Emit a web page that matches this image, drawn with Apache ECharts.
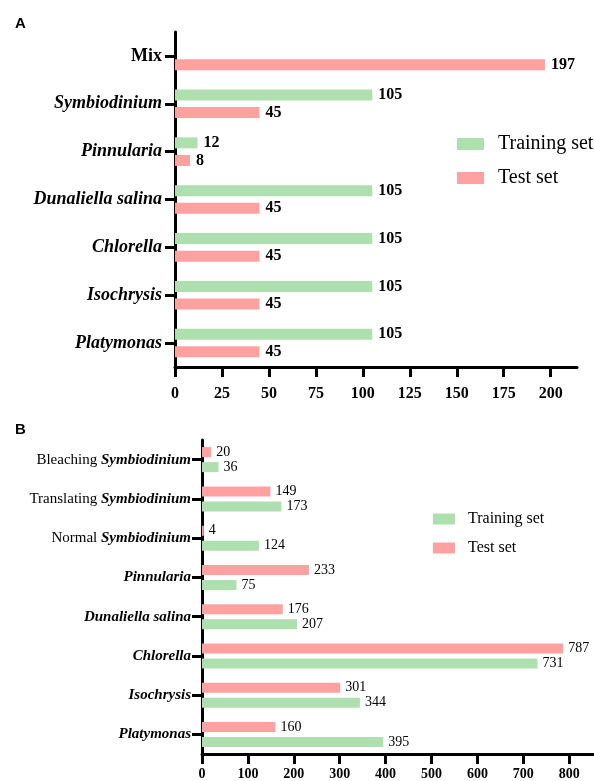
<!DOCTYPE html>
<html>
<head>
<meta charset="utf-8">
<script src="https://cdn.jsdelivr.net/npm/echarts@6/dist/echarts.min.js"></script>
<style>
  html, body { margin: 0; padding: 0; background: #fff; }
  #chart { width: 594px; height: 781px; }
</style>
</head>
<body>
<div id="chart"></div>
<script>
// Panel A: dataset split per species
const catsA = ['Mix', 'Symbiodinium', 'Pinnularia', 'Dunaliella salina', 'Chlorella', 'Isochrysis', 'Platymonas'];
const trainA = [null, 105, 12, 105, 105, 105, 105];
const testA = [197, 45, 8, 45, 45, 45, 45];
const ticksA = [0, 25, 50, 75, 100, 125, 150, 175, 200];

// Panel B: dataset split per class
const catsB = ['Bleaching Symbiodinium', 'Translating Symbiodinium', 'Normal Symbiodinium', 'Pinnularia',
               'Dunaliella salina', 'Chlorella', 'Isochrysis', 'Platymonas'];
const testB = [20, 149, 4, 233, 176, 787, 301, 160];
const trainB = [36, 173, 124, 75, 207, 731, 344, 395];
const ticksB = [0, 100, 200, 300, 400, 500, 600, 700, 800];

const SERIF = '"Liberation Serif", "Times New Roman", serif';
const GREEN = '#aedfae';
const PINK = '#ffa1a1';

const axisLineStyle = { color: '#000', width: 3 };

function fmtA(v) {
  return v === 'Mix' ? '{b|' + v + '}' : '{bi|' + v + '}';
}
function fmtB(v) {
  const m = v.match(/^(Bleaching|Translating|Normal) (.*)$/);
  if (m) return '{n|' + m[1] + ' }{bi|' + m[2] + '}';
  return '{bi|' + v + '}';
}

const chart = echarts.init(document.getElementById('chart'), null, { renderer: 'canvas' });

chart.setOption({
  animation: false,
  backgroundColor: '#fff',
  title: [
    { text: 'A', left: 15, top: 16, padding: 0,
      textStyle: { fontFamily: '"Liberation Sans", Arial, sans-serif', fontWeight: 'bold', fontSize: 15, color: '#000' } },
    { text: 'B', left: 15, top: 422, padding: 0,
      textStyle: { fontFamily: '"Liberation Sans", Arial, sans-serif', fontWeight: 'bold', fontSize: 15, color: '#000' } }
  ],
  legend: [
    { data: ['Training set', 'Test set'], orient: 'vertical', left: 457, top: 134, padding: 0,
      itemWidth: 27, itemHeight: 12, itemGap: 14, icon: 'rect', selectedMode: false,
      textStyle: { fontFamily: SERIF, fontSize: 20, color: '#000', padding: [0, 0, 0, 9] } },
    { data: ['Training set', 'Test set'], orient: 'vertical', left: 433, top: 511, padding: 0,
      itemWidth: 22, itemHeight: 11, itemGap: 13, icon: 'rect', selectedMode: false,
      textStyle: { fontFamily: SERIF, fontSize: 16, color: '#000', padding: [0, 0, 0, 8] } }
  ],
  grid: [
    { left: 175, right: 17, top: 32, height: 335 },
    { left: 202, right: 0, top: 440, height: 315 }
  ],
  xAxis: [
    { gridIndex: 0, type: 'value', min: 0, max: 214,
      axisLine: { show: true, lineStyle: axisLineStyle },
      axisTick: { show: true, length: 10, lineStyle: axisLineStyle, customValues: ticksA },
      axisLabel: { customValues: ticksA, margin: 19, fontFamily: SERIF, fontWeight: 'bold', fontSize: 16, color: '#000' },
      splitLine: { show: false } },
    { gridIndex: 1, type: 'value', min: 0, max: 854,
      axisLine: { show: true, lineStyle: axisLineStyle },
      axisTick: { show: true, length: 10, lineStyle: axisLineStyle, customValues: ticksB },
      axisLabel: { customValues: ticksB, margin: 13, fontFamily: SERIF, fontWeight: 'bold', fontSize: 14, color: '#000' },
      splitLine: { show: false } }
  ],
  yAxis: [
    { gridIndex: 0, type: 'category', data: catsA, inverse: true,
      axisLine: { show: true, lineStyle: axisLineStyle },
      axisTick: { show: true, length: 10, alignWithLabel: true, lineStyle: axisLineStyle },
      axisLabel: { margin: 13, formatter: fmtA, color: '#000',
        rich: {
          b: { fontFamily: SERIF, fontSize: 18, fontWeight: 'bold', color: '#000' },
          bi: { fontFamily: SERIF, fontSize: 18, fontWeight: 'bold', fontStyle: 'italic', color: '#000' }
        } } },
    { gridIndex: 1, type: 'category', data: catsB, inverse: true,
      axisLine: { show: true, lineStyle: axisLineStyle },
      axisTick: { show: true, length: 10, alignWithLabel: true, lineStyle: axisLineStyle },
      axisLabel: { margin: 11, formatter: fmtB, color: '#000',
        rich: {
          n: { fontFamily: SERIF, fontSize: 15, fontWeight: 'normal', color: '#000' },
          bi: { fontFamily: SERIF, fontSize: 15, fontWeight: 'bold', fontStyle: 'italic', color: '#000' }
        } } }
  ],
  series: [
    { name: 'Training set', type: 'bar', xAxisIndex: 0, yAxisIndex: 0, data: trainA,
      barWidth: 11, barGap: '60%', itemStyle: { color: GREEN },
      label: { show: true, position: 'right', distance: 6, fontFamily: SERIF, fontWeight: 'bold', fontSize: 16, color: '#000' } },
    { name: 'Test set', type: 'bar', xAxisIndex: 0, yAxisIndex: 0, data: testA,
      barWidth: 11, barGap: '60%', itemStyle: { color: PINK },
      label: { show: true, position: 'right', distance: 6, fontFamily: SERIF, fontWeight: 'bold', fontSize: 16, color: '#000' } },
    { name: 'Test set', type: 'bar', xAxisIndex: 1, yAxisIndex: 1, data: testB,
      barWidth: 10, barGap: '50%', itemStyle: { color: PINK },
      label: { show: true, position: 'right', distance: 5, fontFamily: SERIF, fontSize: 14, color: '#000' } },
    { name: 'Training set', type: 'bar', xAxisIndex: 1, yAxisIndex: 1, data: trainB,
      barWidth: 10, barGap: '50%', itemStyle: { color: GREEN },
      label: { show: true, position: 'right', distance: 5, fontFamily: SERIF, fontSize: 14, color: '#000' } }
  ]
});
</script>
</body>
</html>
